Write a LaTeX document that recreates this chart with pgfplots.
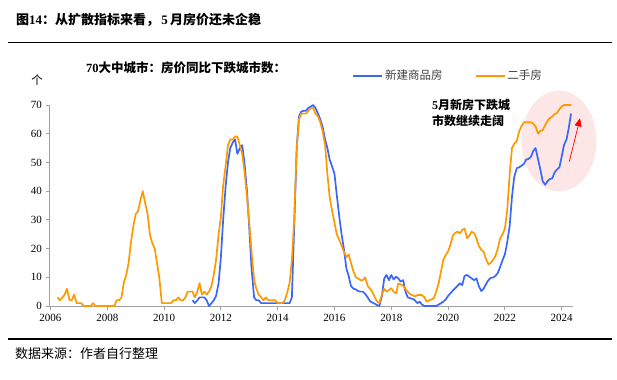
\documentclass[border=0pt]{standalone}
\usepackage{fontspec}
\setmainfont{Liberation Serif}
\newfontfamily\cjk{Noto Sans CJK SC}
\usepackage{pgfplots}
\pgfplotsset{compat=1.18}
\usetikzlibrary{arrows.meta}
\definecolor{newblue}{RGB}{58,102,250}
\definecolor{oldorange}{RGB}{255,153,0}
\definecolor{pinkbg}{RGB}{252,230,230}
\definecolor{axgray}{RGB}{160,160,160}
\begin{document}
\begin{tikzpicture}[x=1bp,y=1bp]
\useasboundingbox (0,0) rectangle (617,379);
% header / footer
\node[anchor=west,inner sep=0] at (16,359) {\fontsize{13bp}{15bp}\selectfont{\cjk\bfseries 图}\textbf{14}{\cjk\bfseries ：从扩散指标来看，}\,\textbf{5}\,{\cjk\bfseries 月房价还未企稳}};
\draw[line width=1.6bp] (8,336.5) -- (612,336.5);
\draw[line width=1.6bp] (8,40) -- (612,40);
\node[anchor=west,inner sep=0] at (15,25) {\fontsize{13bp}{15bp}\selectfont\cjk 数据来源：作者自行整理};
% highlight ellipse
\fill[pinkbg] (559,238) ellipse [x radius=37.5, y radius=50.5];
% chart title and unit
\node[anchor=west,inner sep=0] at (86,311) {\fontsize{12.5bp}{15bp}\selectfont\textbf{70}{\cjk\bfseries 大中城市：房价同比下跌城市数：}};
\node[anchor=center,inner sep=0] at (37,298.5) {\fontsize{11.5bp}{13bp}\selectfont\cjk 个};
% annotation
\node[anchor=west,inner sep=0] at (432,274) {\fontsize{12bp}{14bp}\selectfont\textbf{5}{\cjk\bfseries 月新房下跌城}};
\node[anchor=west,inner sep=0] at (432,258.3) {\fontsize{12bp}{14bp}\selectfont{\cjk\bfseries 市数继续走阔}};
\begin{axis}[
  at={(49.5bp,73bp)}, anchor=south west,
  width=523.8bp, height=201bp, scale only axis,
  xmin=2005.965, xmax=2024.41, ymin=0, ymax=70,
  axis x line=bottom, axis y line=left,
  axis line style={-, axgray, line width=0.8bp},
  xtick={2006,2008,...,2024}, ytick={0,10,...,70},
  tick align=outside, major tick length=4bp,
  tick style={axgray, line width=0.8bp},
  x tick label style={/pgf/number format/1000 sep={}},
  /pgf/number format/assume math mode=true,
  tick label style={font=\fontsize{11bp}{13bp}\selectfont, text=black},
  xticklabel style={yshift=-1bp},
  clip=false,
  legend columns=2,
  legend style={at={(0.578,1.146)}, anchor=west, draw=none, fill=none,
    font=\fontsize{11.5bp}{13bp}\selectfont\cjk, text=black!75,
    inner sep=0pt, /tikz/every even column/.append style={column sep=30bp}},
  legend image code/.code={\draw[#1] (0bp,0bp) -- (29bp,0bp);},
]
\addplot[newblue, line width=1.7bp, line join=round] coordinates {
(2011.00,2) (2011.08,1) (2011.17,2) (2011.25,3) (2011.33,3) (2011.42,3) (2011.50,2) (2011.58,0)
(2011.67,1) (2011.75,2) (2011.83,3.5) (2011.92,8) (2012.00,17) (2012.08,30) (2012.17,42) (2012.25,50)
(2012.33,55) (2012.42,57) (2012.50,58) (2012.58,53) (2012.67,55) (2012.75,56) (2012.83,50) (2012.92,40)
(2013.00,27) (2013.08,13) (2013.17,3) (2013.25,2) (2013.33,2) (2013.42,1) (2013.50,1) (2013.58,1)
(2013.67,1) (2013.75,1) (2013.83,1) (2013.92,1) (2014.00,1) (2014.08,1) (2014.17,1) (2014.25,1)
(2014.33,1) (2014.42,1) (2014.50,3) (2014.58,27) (2014.67,55) (2014.75,66) (2014.83,67.7) (2014.92,68)
(2015.00,68) (2015.08,69) (2015.17,69.5) (2015.25,70) (2015.33,69) (2015.42,67) (2015.50,65) (2015.58,62.5)
(2015.67,58) (2015.75,55) (2015.83,51) (2015.92,48.5) (2016.00,46) (2016.08,38.7) (2016.17,31) (2016.25,25)
(2016.33,20) (2016.42,13) (2016.50,10.5) (2016.58,7) (2016.67,6) (2016.75,5.8) (2016.83,5.2) (2016.92,5)
(2017.00,5) (2017.08,4.2) (2017.17,3) (2017.25,1.7) (2017.33,1.2) (2017.42,0.8) (2017.50,0.3) (2017.58,0)
(2017.67,3.5) (2017.75,9.5) (2017.83,10.8) (2017.92,9) (2018.00,10.8) (2018.08,9.3) (2018.17,10.2) (2018.25,9.6)
(2018.33,8.5) (2018.42,9) (2018.50,5) (2018.58,3) (2018.67,2.7) (2018.75,2.5) (2018.83,2) (2018.92,1)
(2019.00,1.5) (2019.08,0.5) (2019.17,0) (2019.25,0) (2019.33,0) (2019.42,0) (2019.50,0) (2019.58,0)
(2019.67,0.5) (2019.75,1) (2019.83,1.5) (2019.92,2.3) (2020.00,3.5) (2020.08,4.4) (2020.17,5.4) (2020.25,6.2)
(2020.33,7) (2020.42,7.9) (2020.50,7.3) (2020.58,10.5) (2020.67,10.8) (2020.75,10.2) (2020.83,9.6) (2020.92,9)
(2021.00,9.6) (2021.08,7) (2021.17,5.2) (2021.25,6) (2021.33,7.5) (2021.42,9) (2021.50,9.8) (2021.58,9.9)
(2021.67,10.5) (2021.75,11.5) (2021.83,13.5) (2021.92,16) (2022.00,18) (2022.08,22) (2022.17,28) (2022.25,38)
(2022.33,45) (2022.42,48) (2022.50,48.3) (2022.58,48.8) (2022.67,49.5) (2022.75,51) (2022.83,51.2) (2022.92,52)
(2023.00,54) (2023.08,55) (2023.17,51) (2023.25,47.5) (2023.33,43.5) (2023.42,42.2) (2023.50,43.5) (2023.58,44.2)
(2023.67,44.5) (2023.75,46.5) (2023.83,47.5) (2023.92,48.3) (2024.00,52) (2024.08,56) (2024.17,58) (2024.25,62)
(2024.33,67)
};
\addlegendentry{新建商品房}
\addplot[oldorange, line width=1.7bp, line join=round] coordinates {
(2006.25,3) (2006.33,2) (2006.42,3) (2006.50,4) (2006.58,6) (2006.67,2) (2006.75,2) (2006.83,4)
(2006.92,1) (2007.00,1) (2007.08,1) (2007.17,0) (2007.25,0) (2007.33,0) (2007.42,0) (2007.50,1)
(2007.58,0) (2007.67,0) (2007.75,0) (2007.83,0) (2007.92,0) (2008.00,0) (2008.08,0) (2008.17,0)
(2008.25,0) (2008.33,2) (2008.42,2) (2008.50,3) (2008.58,8) (2008.67,11) (2008.75,15) (2008.83,22)
(2008.92,28) (2009.00,32) (2009.08,33) (2009.17,37) (2009.25,40) (2009.33,36) (2009.42,32) (2009.50,25)
(2009.58,22) (2009.67,20) (2009.75,15) (2009.83,10) (2009.92,1) (2010.00,1) (2010.08,1) (2010.17,1)
(2010.25,1) (2010.33,2) (2010.42,2) (2010.50,3) (2010.58,2) (2010.67,2) (2010.75,3) (2010.83,5)
(2010.92,5) (2011.00,5) (2011.08,3) (2011.17,5) (2011.25,8) (2011.33,4) (2011.42,5) (2011.50,4)
(2011.58,5) (2011.67,7) (2011.75,11) (2011.83,16) (2011.92,25) (2012.00,31) (2012.08,42) (2012.17,49)
(2012.25,56) (2012.33,58) (2012.42,58) (2012.50,59) (2012.58,59) (2012.67,56) (2012.75,53) (2012.83,47)
(2012.92,38) (2013.00,29) (2013.08,19) (2013.17,9) (2013.25,6) (2013.33,4) (2013.42,3) (2013.50,2)
(2013.58,3) (2013.67,2) (2013.75,2) (2013.83,2) (2013.92,2) (2014.00,1) (2014.08,1) (2014.17,1)
(2014.25,2) (2014.33,4.5) (2014.42,8) (2014.50,16) (2014.58,30) (2014.67,55) (2014.75,65) (2014.83,67)
(2014.92,67) (2015.00,67) (2015.08,68) (2015.17,69) (2015.25,69) (2015.33,67) (2015.42,66) (2015.50,64)
(2015.58,61) (2015.67,56) (2015.75,46) (2015.83,38) (2015.92,33) (2016.00,29) (2016.08,25) (2016.17,23)
(2016.25,21) (2016.33,19) (2016.42,17) (2016.50,18) (2016.58,15) (2016.67,12) (2016.75,10) (2016.83,9.6)
(2016.92,9) (2017.00,9) (2017.08,10) (2017.17,7) (2017.25,6) (2017.33,5) (2017.42,3) (2017.50,1.5)
(2017.58,1) (2017.67,4) (2017.75,6) (2017.83,5) (2017.92,5.6) (2018.00,6.2) (2018.08,5) (2018.17,4.4)
(2018.25,7.9) (2018.33,7.5) (2018.42,7) (2018.50,6) (2018.58,5) (2018.67,4) (2018.75,3.8) (2018.83,3.3)
(2018.92,3.8) (2019.00,3.8) (2019.08,3.8) (2019.17,3) (2019.25,1.5) (2019.33,2) (2019.42,2.3) (2019.50,2.7)
(2019.58,5) (2019.67,8) (2019.75,12) (2019.83,16) (2019.92,17.8) (2020.00,19) (2020.08,21.3) (2020.17,24.5)
(2020.25,25.5) (2020.33,25.9) (2020.42,25.3) (2020.50,26.5) (2020.58,27) (2020.67,23.6) (2020.75,24.5) (2020.83,25.9)
(2020.92,25.3) (2021.00,23.5) (2021.08,21) (2021.17,19.5) (2021.25,19) (2021.33,16.5) (2021.42,14.5) (2021.50,15)
(2021.58,16) (2021.67,17.5) (2021.75,20) (2021.83,23.5) (2021.92,25) (2022.00,27) (2022.08,33) (2022.17,46)
(2022.25,55) (2022.33,56.5) (2022.42,57.5) (2022.50,60.7) (2022.58,62.5) (2022.67,64) (2022.75,64) (2022.83,64)
(2022.92,64) (2023.00,63.5) (2023.08,62.5) (2023.17,60) (2023.25,61) (2023.33,61.2) (2023.42,63) (2023.50,64.5)
(2023.58,65.4) (2023.67,66) (2023.75,66.8) (2023.83,67.2) (2023.92,68.5) (2024.00,69.5) (2024.08,70) (2024.17,70)
(2024.25,70) (2024.33,70)
};
\addlegendentry{二手房}
\end{axis}
\draw[red, line width=0.7bp, -{Triangle[length=8bp,width=7bp]}] (569.3,217.3) -- (580,260.7);
\end{tikzpicture}
\end{document}
